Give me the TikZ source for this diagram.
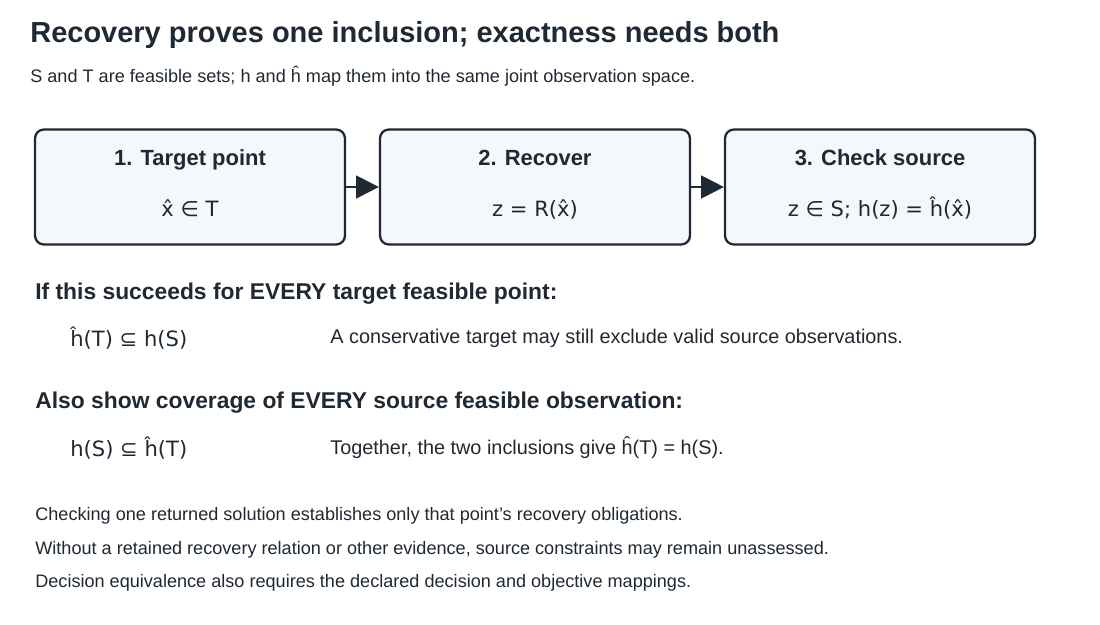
\documentclass[tikz,border=0pt]{standalone}
\usepackage{fontspec}
\setmainfont{Liberation Sans}
\newfontfamily\mathfnt{DejaVu Sans}
\usetikzlibrary{arrows.meta,positioning}
\definecolor{ink}{HTML}{1F2933}
\definecolor{boxfill}{HTML}{F4F7FB}
\tikzset{
  stage/.style={draw=ink,line width=1.3pt,rounded corners=5pt,fill=boxfill,minimum width=6.2cm,minimum height=2.3cm},
  flow/.style={-{Triangle[length=13pt,width=13pt]},line width=1.3pt,draw=ink,fill=ink},
  txt/.style={anchor=west,inner sep=0pt,text=ink}
}
\begin{document}
\begin{tikzpicture}[x=0.02cm,y=-0.02cm]
\useasboundingbox (0,0) rectangle (1100,625);
% title
\node[txt,font=\bfseries\fontsize{16.5}{18}\selectfont] (title) at (30,35) {Recovery proves one inclusion; exactness needs both};
\node[txt,font=\fontsize{10.3}{12}\selectfont] (sub) at (30,76) {S and T are feasible sets; h and \^h map them into the same joint observation space.};
% stages
\node[stage] (s1) at (190,187) {};
\node[stage] (s2) at (535,187) {};
\node[stage] (s3) at (880,187) {};
\foreach \n/\t/\f in {s1/1. Target point/x̂ ∈ T, s2/2. Recover/z = R(x̂), s3/3. Check source/z ∈ S; h(z) = ĥ(x̂)}{
  \node[anchor=base,font=\bfseries\fontsize{12.5}{14}\selectfont,text=ink] at ([yshift=-0.74cm]\n.north) {\t};
  \node[anchor=base,font=\mathfnt\fontsize{12}{14}\selectfont,text=ink] at ([yshift=-0.6cm]\n.center) {\f};
}
\draw[flow] (s1) -- (s2);
\draw[flow] (s2) -- (s3);
% inclusions
\node[txt,font=\bfseries\fontsize{13}{15}\selectfont] (h1) at (35,294) {If this succeeds for EVERY target feasible point:};
\node[txt,font=\mathfnt\fontsize{12}{14}\selectfont] (i1) at (70,338) {ĥ(T) ⊆ h(S)};
\node[txt,font=\fontsize{11.3}{13}\selectfont] (n1) at (330,338) {A conservative target may still exclude valid source observations.};
\node[txt,font=\bfseries\fontsize{13}{15}\selectfont] (h2) at (35,403) {Also show coverage of EVERY source feasible observation:};
\node[txt,font=\mathfnt\fontsize{12}{14}\selectfont] (i2) at (70,448) {h(S) ⊆ ĥ(T)};
\node[txt,font=\fontsize{11.3}{13}\selectfont] (n2) at (330,448) {Together, the two inclusions give ĥ(T) = h(S).};
% notes
\node[txt,font=\fontsize{10.3}{12}\selectfont] (c1) at (35,516) {Checking one returned solution establishes only that point’s recovery obligations.};
\node[txt,font=\fontsize{10.3}{12}\selectfont] (c2) at (35,550) {Without a retained recovery relation or other evidence, source constraints may remain unassessed.};
\node[txt,font=\fontsize{10.3}{12}\selectfont] (c3) at (35,583) {Decision equivalence also requires the declared decision and objective mappings.};
\end{tikzpicture}
\end{document}
